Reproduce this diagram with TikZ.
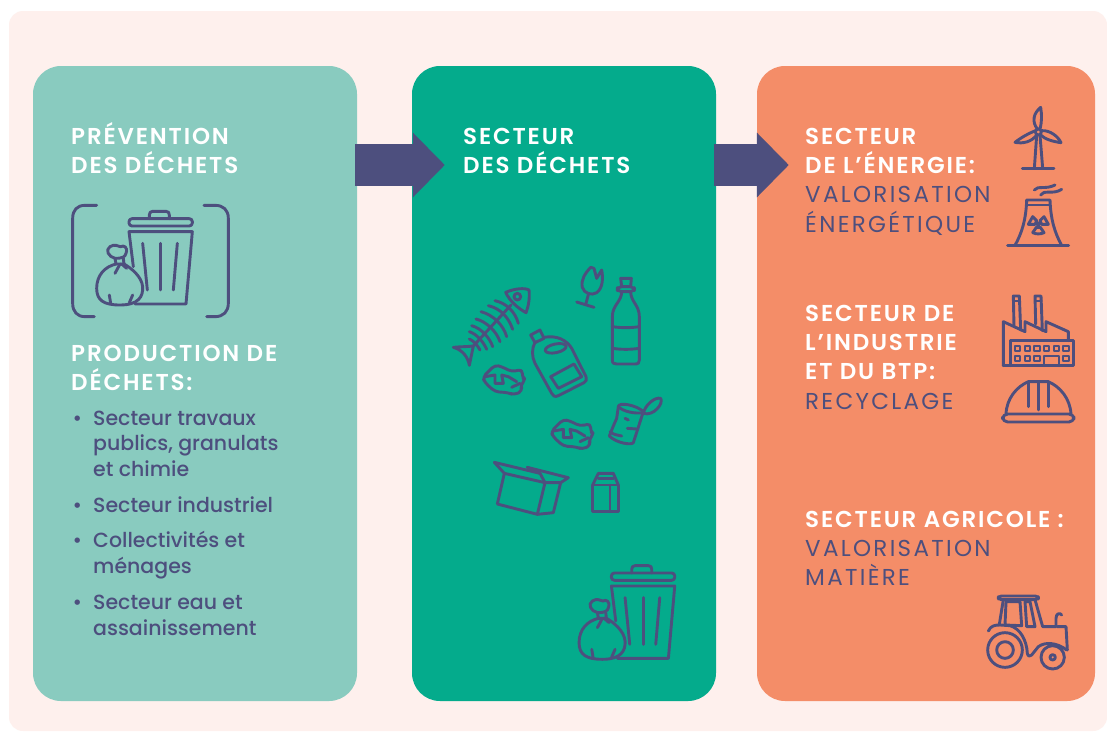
\documentclass[tikz,border=0pt]{standalone}
\usepackage{fontspec}
\setmainfont{Poppins}
\newfontfamily\headfont{Poppins SemiBold}[LetterSpace=8]
\newfontfamily\capsfont{Poppins}[LetterSpace=10]
\newfontfamily\bodyfont{Poppins Medium}
\usetikzlibrary{arrows.meta}
\definecolor{ink}{HTML}{4D4F7E}
\definecolor{bgpink}{HTML}{FEF0ED}
\definecolor{pteal}{HTML}{89CBBF}
\definecolor{pgreen}{HTML}{04AB8C}
\definecolor{porange}{HTML}{F48D68}
\newcommand\topstrut{\vphantom{É}}
\newcommand\capsline[1]{{\capsfont\color{ink}#1}}
\tikzset{
  panel/.style={rounded corners=28pt,inner sep=0pt},
  head/.style={anchor=north west,inner sep=0pt,align=left,text=white,font=\fontsize{23}{29.3}\selectfont\headfont},
  body/.style={anchor=north west,inner sep=0pt,align=left,text=ink,font=\fontsize{20.5}{25.5}\selectfont\bodyfont},
  flow/.style={draw=ink,line width=42pt,-{Triangle[length=32pt,width=63pt]}},
  ico/.style={draw=ink,line width=2.9pt,line cap=round,line join=round,fill=none},
  zoomed/.style={shift={#1},scale=1/3}
}
\newcommand\trashart{%
    \draw[ico] (268,86) -- (268,75) .. controls (268,68) and (272,64) .. (278,64) -- (318,64) .. controls (325,64) and (328,68) .. (328,75) -- (328,86);
    \draw[ico,rounded corners=3pt] (207,86) rectangle (397,108);
    \draw[ico] (220,230) -- (207,125) -- (397,125) -- (378,342) -- (225,342);
    \draw[ico] (248,160) -- (262,300);
    \draw[ico] (302,160) -- (302,300);
    \draw[ico] (352,160) -- (340,300);
    \draw[ico] (165,205) .. controls (145,200) and (135,180) .. (150,170) .. controls (165,160) and (175,170) .. (182,170) .. controls (190,165) and (205,170) .. (198,190) .. controls (195,200) and (190,205) .. (165,205);
    \draw[ico] (165,205) -- (168,222) -- (192,222) -- (190,205);
    \draw[ico] (168,222) .. controls (135,230) and (110,255) .. (110,295) .. controls (110,330) and (130,345) .. (180,345) .. controls (235,345) and (250,320) .. (248,290) .. controls (245,260) and (215,235) .. (192,222);
    \draw[ico] (180,222) -- (165,250);
    \draw[ico] (185,222) -- (200,235);
    \draw[ico] (148,315) -- (152,340);
    \draw[ico] (218,315) -- (208,338);
}
\newcommand\paperart{%
    \draw[ico,rounded corners=4pt] (128,352) -- (165,315) -- (185,320) -- (215,335) -- (248,328) -- (245,350) -- (258,360) -- (240,375) -- (248,392) -- (222,405) -- (205,398) -- (165,395) -- (135,368) -- cycle;
    \draw[ico] (135,350) -- (165,345) -- (165,370) -- (190,370) -- (185,345) -- (205,350) -- (230,365);
    \draw[ico] (215,382) -- (240,370);
}
\begin{document}
\begin{tikzpicture}[x=1pt,y=-1pt]
\useasboundingbox (0,0) rectangle (1107,731);
\path[fill=white] (0,0) rectangle (1107,731);
\path[fill=bgpink,rounded corners=14pt] (9,11) rectangle (1107,731);
\node[panel,fill=pteal,minimum width=324pt,minimum height=635pt] (left) at (195,383.5) {};
\node[panel,fill=pgreen,minimum width=304pt,minimum height=635pt] (mid) at (564,383.5) {};
\node[panel,fill=porange,minimum width=338pt,minimum height=635pt] (right) at (926,383.5) {};
\coordinate (a1) at ([xshift=-2pt,yshift=218.5pt]left.east);
\coordinate (a2) at ([xshift=33pt,yshift=218.5pt]mid.west);
\coordinate (b1) at ([xshift=-2pt,yshift=218.5pt]mid.east);
\coordinate (b2) at ([xshift=32pt,yshift=218.5pt]right.west);
\draw[flow] (a1) -- (a2);
\draw[flow] (b1) -- (b2);

% left panel text
\node[head] (t1) at (71,122) {\topstrut PRÉVENTION\\DES DÉCHETS};
\node[head] (t2) at (71,339) {\topstrut PRODUCTION DE\\DÉCHETS:};
\node[body] (b1t) at (93,406) {\topstrut\llap{•\hspace{11pt}}Secteur travaux\\publics, granulats\\et chimie};
\node[body] (b2t) at (93,493) {\topstrut\llap{•\hspace{11pt}}Secteur industriel};
\node[body] (b3t) at (93,528) {\topstrut\llap{•\hspace{11pt}}Collectivités et\\ménages};
\node[body] (b4t) at (93,590) {\topstrut\llap{•\hspace{11pt}}Secteur eau et\\assainissement};

% middle text
\node[head] (t3) at (463,122) {\topstrut SECTEUR\\DES DÉCHETS};

% right text
\node[head] (t4) at (805,122) {\topstrut SECTEUR\\DE L’ÉNERGIE:\\\capsline{VALORISATION}\\\capsline{ÉNERGÉTIQUE}};
\node[head] (t5) at (805,299) {\topstrut SECTEUR DE\\L’INDUSTRIE\\ET DU BTP:\\\capsline{RECYCLAGE}};
\node[head] (t6) at (805,505) {\topstrut SECTEUR AGRICOLE :\\\capsline{VALORISATION}\\\capsline{MATIÈRE}};

% left icon
\begin{scope}[zoomed={(60,190)}]
  \trashart
  \draw[ico] (110,46) -- (75,46) .. controls (52,46) and (38,60) .. (38,85) -- (38,340) .. controls (38,365) and (52,380) .. (75,380) -- (103,380);
  \draw[ico] (432,46) -- (465,46) .. controls (490,46) and (505,60) .. (505,85) -- (505,340) .. controls (505,365) and (490,380) .. (465,380) -- (440,380);
\end{scope}

% middle icons
\begin{scope}[zoomed={(542.4,544.3)}]
  \trashart
\end{scope}
\begin{scope}[zoomed={(440,260)}]
  % fish
  \draw[ico] (197,97) .. controls (225,85) and (255,83) .. (267,90) .. controls (270,115) and (265,140) .. (258,158) .. controls (235,145) and (210,125) .. (197,97) -- cycle;
  \draw[ico] (232,110) circle (10);
  \draw[ico] (213,135) -- (100,258);
  \draw[ico] (40,262) .. controls (60,260) and (85,260) .. (100,258) -- (88,316) .. controls (85,295) and (70,270) .. (40,262);
  \draw[ico] (165,122) .. controls (200,130) and (225,155) .. (235,190);
  \draw[ico] (145,137) .. controls (180,145) and (205,170) .. (218,208);
  \draw[ico] (123,155) .. controls (160,165) and (190,195) .. (200,230);
  \draw[ico] (108,177) .. controls (140,185) and (170,215) .. (180,245);
  \draw[ico] (95,197) .. controls (125,205) and (150,235) .. (158,260);
  \draw[ico] (88,215) .. controls (110,222) and (130,245) .. (140,268);
  \draw[ico] (88,237) .. controls (100,242) and (112,255) .. (120,270);
  % glass
  \draw[ico] (452,22) .. controls (435,40) and (422,60) .. (427,82) .. controls (432,100) and (455,108) .. (470,98) .. controls (488,85) and (490,55) .. (485,30) -- (470,55) -- (462,25) -- cycle;
  \draw[ico] (445,104) -- (438,130);
  \draw[ico] (410,126) -- (462,142);
  % bottle
  \draw[ico] (545,80) -- (542,55) -- (574,55) -- (572,80);
  \draw[ico,rounded corners=4pt] (532,80) rectangle (583,95);
  \draw[ico] (545,95) .. controls (545,125) and (517,135) .. (517,170) -- (517,300) .. controls (517,310) and (522,312) .. (530,312) -- (585,312) .. controls (595,312) and (598,308) .. (598,300) -- (598,170) .. controls (598,135) and (572,125) .. (572,95);
  \draw[ico] (517,200) .. controls (545,204) and (570,204) .. (598,200);
  \draw[ico] (517,265) .. controls (545,269) and (570,269) .. (598,265);
  % detergent
  \draw[ico] (272,225) -- (300,210) -- (312,235) -- (285,248) -- cycle;
  \draw[ico] (312,232) .. controls (350,225) and (380,240) .. (395,265) -- (438,350) .. controls (442,358) and (438,365) .. (432,368) -- (355,407) .. controls (345,412) and (338,408) .. (335,400) -- (285,310) .. controls (275,290) and (275,265) .. (285,247);
  \draw[ico,rotate around={12:(347,265)}] (347,265) ellipse [x radius=32,y radius=13];
  \draw[ico] (332,350) -- (402,312) -- (425,350) -- (355,385) -- cycle;
  % papers
  \paperart
  \begin{scope}[shift={(205,163)}]\paperart\end{scope}
  % can
  \draw[ico] (535,440) .. controls (535,425) and (590,435) .. (610,455) -- (580,548) .. controls (575,556) and (530,550) .. (508,528) -- (520,498) -- (530,475) -- cycle;
  \draw[ico] (535,440) .. controls (550,455) and (585,462) .. (610,458);
  \draw[ico] (610,460) .. controls (615,435) and (645,410) .. (662,415) .. controls (672,430) and (640,470) .. (610,460);
  \draw[ico] (510,515) .. controls (520,525) and (535,525) .. (545,528);
  \draw[ico] (562,505) -- (590,507);
  \draw[ico] (555,475) -- (565,480);
  % box
  \draw[ico] (193,640) -- (172,732) -- (292,763) -- (315,668) -- cycle;
  \draw[ico] (292,763) -- (340,758) -- (362,668) -- (315,668);
  \draw[ico] (193,640) -- (163,607) -- (300,640) -- (315,668);
  \draw[ico] (262,622) -- (385,653) -- (362,668);
  \draw[ico] (262,622) -- (300,640);
  % carton
  \draw[ico] (458,675) rectangle (535,755);
  \draw[ico] (510,675) -- (510,755);
  \draw[ico] (458,675) -- (475,640) -- (520,640) -- (535,675);
  \draw[ico] (475,655) -- (520,655);
\end{scope}

% right icons
\begin{scope}[zoomed={(990,100)}]
  % turbine
  \draw[ico] (97,205) -- (192,205);
  \draw[ico] (133,205) -- (140,106);
  \draw[ico] (158,205) -- (150,106);
  \draw[ico] (145,96) circle (9);
  \draw[ico] (142,87) .. controls (125,65) and (130,40) .. (152,22) .. controls (156,45) and (155,70) .. (150,87);
  \draw[ico] (137,92) .. controls (115,100) and (90,115) .. (75,127) .. controls (100,132) and (125,125) .. (140,105);
  \draw[ico] (155,92) .. controls (180,90) and (205,110) .. (213,128) .. controls (190,125) and (165,118) .. (152,105);
  % cooling tower
  \draw[ico] (53,436) -- (236,436);
  \draw[ico] (75,436) .. controls (95,400) and (108,360) .. (110,300) -- (180,300) .. controls (182,360) and (195,400) .. (215,436);
  \draw[ico] (110,315) -- (180,315);
  \draw[ico] (133,270) .. controls (145,255) and (165,270) .. (195,255);
  \draw[ico] (152,285) .. controls (160,268) and (190,285) .. (215,268);
  \draw[ico] (145,372) circle (4);
  \draw[ico] (115,373) -- (128,350) -- (140,362) -- (135,373) -- cycle;
  \draw[ico] (175,373) -- (162,350) -- (150,362) -- (155,373) -- cycle;
  \draw[ico] (128,398) -- (139,382) -- (151,382) -- (162,398) .. controls (150,403) and (140,403) .. (128,398);
  % factory
  \draw[ico] (72,680) -- (70,588) -- (88,588) -- (92,690);
  \draw[ico] (71,603) -- (89,603);
  \draw[ico] (137,672) -- (135,588) -- (153,588) -- (157,692);
  \draw[ico] (136,603) -- (154,603);
  \draw[ico] (40,797) -- (40,665) -- (105,695) -- (105,665) -- (168,695) -- (168,665) -- (235,695) -- (235,722);
  \draw[ico] (62,797) -- (62,722) -- (250,722) -- (250,797) -- (40,797);
  \foreach \wx in {75,105,133,162,191,220}
    \draw[ico,line width=2.2pt] (\wx,737) rectangle ++(16,16);
  \foreach \wx in {75,105,133,220}
    \draw[ico,line width=2.2pt] (\wx,767) rectangle ++(16,16);
  \draw[ico] (162,797) -- (162,768) -- (207,768) -- (207,797);
  % hard hat
  \draw[ico,rounded corners=5pt] (38,942) rectangle (252,966);
  \draw[ico] (48,942) .. controls (50,895) and (80,860) .. (115,845) -- (175,845) .. controls (210,860) and (240,895) .. (243,942);
  \draw[ico] (115,845) -- (115,920);
  \draw[ico] (145,845) -- (145,930);
  \draw[ico] (175,845) -- (175,920);
\end{scope}
\begin{scope}[zoomed={(970,585)}]
  % tractor
  \draw[ico,rounded corners=3pt] (85,33) rectangle (205,44);
  \draw[ico] (100,44) -- (88,118);
  \draw[ico] (108,50) -- (150,50) -- (155,122) -- (105,120) -- cycle;
  \draw[ico] (165,50) -- (180,50) -- (195,125) -- (170,125) -- cycle;
  \draw[ico] (195,44) -- (218,125) -- (258,125) -- (258,100) .. controls (258,85) and (270,82) .. (275,90);
  \draw[ico] (262,125) -- (288,125) -- (292,195);
  \draw[ico] (105,195) circle (52);
  \draw[ico] (105,195) circle (25);
  \draw[ico] (248,217) circle (35);
  \draw[ico] (248,217) circle (8);
  \draw[ico] (55,138) .. controls (62,122) and (75,120) .. (90,120) -- (120,122) .. controls (150,130) and (170,165) .. (172,205) .. controls (174,215) and (180,215) .. (185,210) -- (205,185) .. controls (225,170) and (260,172) .. (290,195);
\end{scope}
\end{tikzpicture}
\end{document}
